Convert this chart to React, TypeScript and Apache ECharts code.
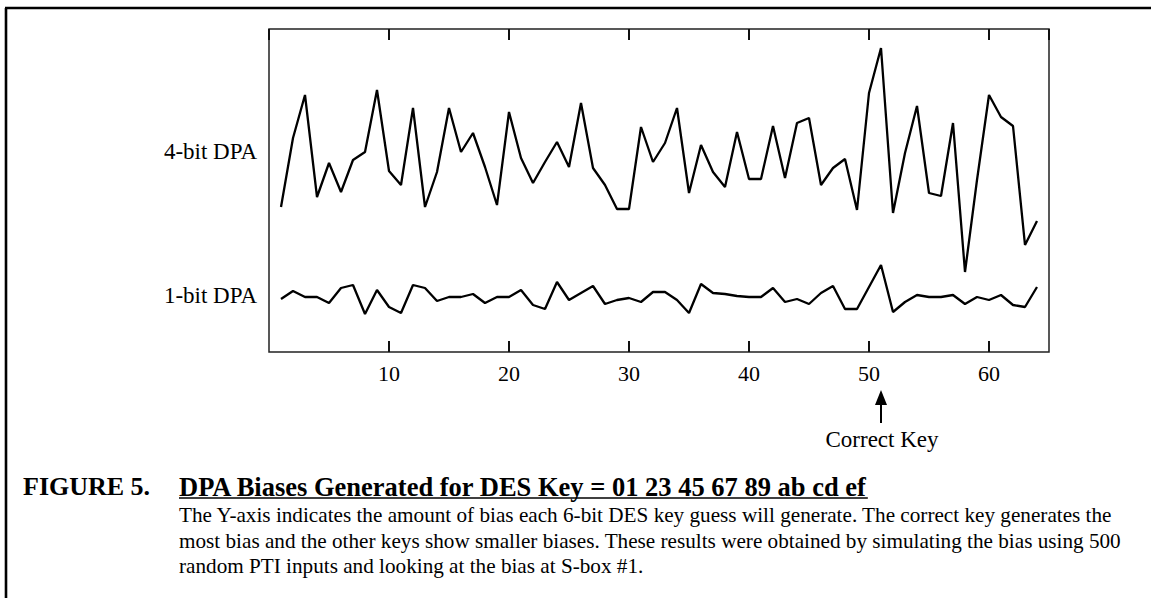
import React, { useEffect, useRef } from "react";
import * as echarts from "echarts";

// 6-bit key guesses (x positions)
const keyGuesses: number[] = Array.from({ length: 64 }, (_, i) => i + 1);

// Bias (arbitrary units)
const fourBitBias: number[] = [
  145, 214, 257, 155, 189, 160, 192, 200, 262, 181,
  167, 244, 145, 180, 244, 200, 219, 185, 147, 240,
  194, 169, 190, 210, 185, 249, 184, 167, 143, 143,
  225, 190, 209, 244, 159, 207, 180, 165, 220, 173,
  173, 226, 174, 229, 234, 167, 184, 193, 142, 259,
  304, 139, 199, 246, 159, 156, 229, 80, 172, 257,
  235, 226, 107, 131,
];

const oneBitBias: number[] = [
  53, 61, 55, 55, 49, 64, 67, 38, 62, 45,
  39, 67, 64, 51, 55, 55, 58, 49, 55, 55,
  62, 47, 43, 70, 52, 59, 66, 48, 52, 54,
  50, 60, 60, 52, 39, 68, 59, 58, 56, 55,
  55, 64, 50, 53, 48, 59, 66, 43, 43, 65,
  87, 40, 50, 57, 55, 55, 57, 48, 55, 52,
  57, 47, 45, 65,
];

const xTickLabels: number[] = [10, 20, 30, 40, 50, 60];
const seriesLabels: string[] = ["4-bit DPA", "1-bit DPA"];
const correctKey = 51;
const correctKeyLabel = "Correct Key";
const figureLabel = "FIGURE 5.";
const figureTitle = "DPA Biases Generated for DES Key = 01 23 45 67 89 ab cd ef";
const captionLines: string[] = [
  "The Y-axis indicates the amount of bias each 6-bit DES key guess will generate. The correct key generates the",
  "most bias and the other keys show smaller biases. These results were obtained by simulating the bias using 500",
  "random PTI inputs and looking at the bias at S-box #1.",
];

const SERIF = '"Liberation Serif", "Times New Roman", serif';

function measure(text: string, font: string): number {
  const c = document.createElement("canvas");
  const ctx = c.getContext("2d");
  if (!ctx) return text.length * 12;
  ctx.font = font;
  return ctx.measureText(text).width;
}

export default function App() {
  const ref = useRef<HTMLDivElement>(null);

  useEffect(() => {
    if (!ref.current) return;
    const chart = echarts.init(ref.current, undefined, { renderer: "svg" });

    const axisCommon = {
      type: "value" as const,
      min: 0,
      max: 65,
      interval: 10,
      splitLine: { show: false },
      axisLine: { show: false },
    };

    chart.setOption({
      animation: false,
      backgroundColor: "#fff",
      grid: {
        left: 269,
        right: 102,
        top: 29,
        bottom: 246,
        show: true,
        borderColor: "#222",
        borderWidth: 1.5,
        backgroundColor: "transparent",
      },
      xAxis: [
        {
          ...axisCommon,
          position: "bottom",
          axisTick: { show: true, inside: true, length: 11, lineStyle: { color: "#111", width: 2 } },
          axisLabel: {
            show: true,
            margin: 10,
            color: "#000",
            fontFamily: SERIF,
            fontSize: 22,
            showMinLabel: false,
            showMaxLabel: false,
            formatter: (v: number) => (xTickLabels.includes(v) ? String(v) : ""),
          },
        },
        {
          ...axisCommon,
          position: "top",
          axisTick: { show: true, inside: true, length: 11, lineStyle: { color: "#111", width: 2 } },
          axisLabel: { show: false },
        },
      ],
      yAxis: {
        type: "value",
        min: 0,
        max: 323,
        show: false,
        splitLine: { show: false },
      },
      series: [
        {
          name: seriesLabels[0],
          type: "line",
          data: fourBitBias.map((v, i) => [keyGuesses[i], v]),
          showSymbol: false,
          symbol: "none",
          lineStyle: { color: "#000", width: 2.3 },
        },
        {
          name: seriesLabels[1],
          type: "line",
          data: oneBitBias.map((v, i) => [keyGuesses[i], v]),
          showSymbol: false,
          symbol: "none",
          lineStyle: { color: "#000", width: 2.3 },
        },
      ],
    });

    const arrowX = chart.convertToPixel({ xAxisIndex: 0 }, correctKey) as number;
    const titleFont = `bold 26.5px ${SERIF}`;
    const titleW = measure(figureTitle, titleFont);

    chart.setOption({
      graphic: [
        // outer frame
        { type: "line", shape: { x1: 5, y1: 8, x2: 1151, y2: 8 }, style: { stroke: "#000", lineWidth: 2.6 } },
        { type: "line", shape: { x1: 6, y1: 8, x2: 6, y2: 598 }, style: { stroke: "#000", lineWidth: 2.6 } },
        // series labels
        {
          type: "text", x: 257, y: 151,
          style: { text: seriesLabels[0], font: `23px ${SERIF}`, fill: "#000", textAlign: "right", textVerticalAlign: "middle" },
        },
        {
          type: "text", x: 257, y: 295,
          style: { text: seriesLabels[1], font: `23px ${SERIF}`, fill: "#000", textAlign: "right", textVerticalAlign: "middle" },
        },
        // arrow
        { type: "polygon", shape: { points: [[arrowX, 390], [arrowX - 6, 405], [arrowX + 6, 405]] }, style: { fill: "#000" } },
        { type: "line", shape: { x1: arrowX, y1: 403, x2: arrowX, y2: 423 }, style: { stroke: "#000", lineWidth: 2 } },
        {
          type: "text", x: arrowX + 1, y: 439,
          style: { text: correctKeyLabel, font: `23px ${SERIF}`, fill: "#000", textAlign: "center", textVerticalAlign: "middle" },
        },
        // caption
        {
          type: "text", x: 23, y: 486.5,
          style: { text: figureLabel, font: `bold 26px ${SERIF}`, fill: "#000", textAlign: "left", textVerticalAlign: "middle" },
        },
        {
          type: "text", x: 179, y: 486.5,
          style: { text: figureTitle, font: titleFont, fill: "#000", textAlign: "left", textVerticalAlign: "middle" },
        },
        { type: "line", shape: { x1: 179, y1: 498, x2: 179 + titleW, y2: 498 }, style: { stroke: "#000", lineWidth: 1.5 } },
        ...captionLines.map((t, i) => ({
          type: "text", x: 179, y: 515 + i * 25.5,
          style: { text: t, font: `21.2px ${SERIF}`, fill: "#000", textAlign: "left", textVerticalAlign: "middle" },
        })),
      ],
    });

    return () => chart.dispose();
  }, []);

  return (
    <div
      ref={ref}
      style={{ position: "absolute", left: 0, top: 0, width: 1151, height: 598, background: "#fff" }}
    />
  );
}
